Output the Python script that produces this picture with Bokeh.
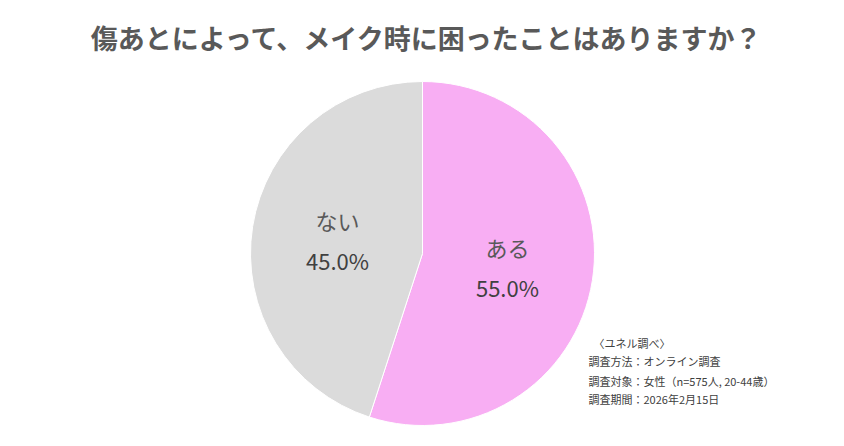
import math
from bokeh.plotting import figure
from bokeh.models import Range1d, ColumnDataSource
from bokeh.core.properties import value
from bokeh.embed import file_html
from bokeh.resources import INLINE

# ---- data ----
title_text = "傷あとによって、メイク時に困ったことはありますか？"
categories = ["ある", "ない"]
percents = [55.0, 45.0]
colors = ["#F8AEF3", "#DBDBDB"]
notes = [
    "〈ユネル調べ〉",
    "調査方法：オンライン調査",
    "調査対象：女性（n=575人, 20-44歳）",
    "調査期間：2026年2月15日",
]

W, H = 828, 430
FONT = "Noto Sans CJK JP"

p = figure(width=W, height=H, output_backend="svg", toolbar_location=None,
           x_range=Range1d(0, W), y_range=Range1d(446 - H, 446),
           min_border=0, outline_line_color=None)
p.axis.visible = False
p.grid.visible = False
p.background_fill_color = "white"
p.border_fill_color = "white"

def Y(y_img):
    return 446 - y_img

cx, cy, R = 422, Y(253), 172

# wedges clockwise from top
total = sum(percents)
starts, ends, mids = [], [], []
a = math.pi / 2
for v in percents:
    span = 2 * math.pi * v / total
    starts.append(a)
    ends.append(a - span)
    mids.append(a - span / 2)
    a -= span

src = ColumnDataSource(dict(start=starts, end=ends, color=colors))
p.wedge(x=cx, y=cy, radius=R, radius_units="screen", start_angle="start", end_angle="end",
        direction="clock", fill_color="color", line_color="white", line_width=1, source=src)

# labels
lr = 86
lx = [cx + lr * math.cos(m) for m in mids]
ly = [cy + lr * math.sin(m) for m in mids]
p.text(x=lx, y=[y + 20 for y in ly], text=categories, text_font=value(FONT),
       text_font_size="22px", text_color="#595959", text_align="center", text_baseline="middle")
p.text(x=lx, y=[y - 20 for y in ly], text=[f"{v:.1f}%" for v in percents], text_font=value(FONT),
       text_font_size="22px", text_color="#404040", text_align="center", text_baseline="middle")

# title
p.text(x=[427], y=[Y(37)], text=[title_text], text_font=value(FONT), text_font_size="27px",
       text_font_style="bold", text_color="#595959", text_align="center", text_baseline="middle")

# notes
note_x = [593, 588, 588, 588]
note_y = [Y(342), Y(360), Y(380), Y(398)]
p.text(x=note_x, y=note_y, text=notes, text_font=value(FONT), text_font_size="11px",
       text_color="#404040", text_align="left", text_baseline="middle")

open("out.html", "w").write(file_html(p, INLINE))
